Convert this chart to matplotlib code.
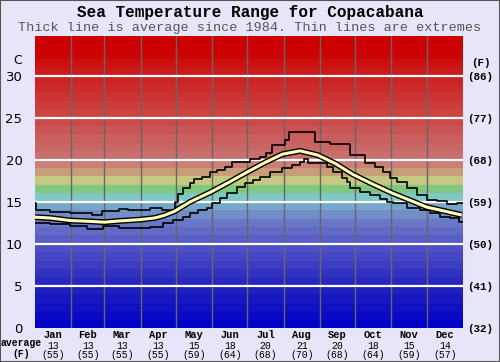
import matplotlib
matplotlib.use("Agg")
import matplotlib.pyplot as plt
import numpy as np
from matplotlib.colors import LinearSegmentedColormap
from matplotlib.patches import Rectangle

# ---- data ----
months = ["Jan", "Feb", "Mar", "Apr", "May", "Jun",
          "Jul", "Aug", "Sep", "Oct", "Nov", "Dec"]
month_avg_c = [13, 13, 13, 13, 15, 18, 20, 21, 20, 18, 15, 14]
month_avg_f = [55, 55, 55, 55, 59, 64, 68, 70, 68, 64, 59, 57]
month_days = [31, 28, 31, 30, 31, 30, 31, 31, 30, 31, 30, 31]

avg_day = [0, 13, 30, 47, 59, 72, 89, 102, 110, 119, 132, 150, 166, 180,
           196, 211, 226, 241, 256, 271, 287, 304, 320, 334, 350, 364]
avg_temp = [13.2, 13.1, 12.8, 12.7, 12.6, 12.75, 12.9, 13.1, 13.4, 13.9, 15.0,
            16.2, 17.4, 18.5, 19.7, 20.7, 21.1, 20.6, 19.6, 18.3, 17.2, 16.1,
            15.2, 14.4, 13.9, 13.45]

max_day = [0, 1, 13, 30, 49, 57, 72, 79, 98, 108, 119, 122, 126, 132, 136,
           142, 149, 155, 162, 168, 183, 192, 197, 202, 213, 217, 239, 252,
           269, 281, 290, 297, 303, 309, 317, 326, 334, 343, 351, 360, 365]
max_temp = [14.9, 14.0, 13.8, 13.7, 13.5, 13.9, 14.2, 14.0, 14.3, 14.1, 15.0,
            16.0, 16.7, 17.3, 17.7, 18.0, 18.6, 18.8, 19.2, 19.8, 20.1, 20.4,
            20.8, 21.8, 22.4, 23.4, 22.1, 21.9, 20.6, 19.6, 19.2, 18.6, 17.9,
            17.4, 16.7, 15.8, 15.3, 15.1, 14.8, 14.9, 14.9]

min_day = [0, 13, 30, 44, 58, 72, 81, 98, 109, 118, 126, 132, 139, 147, 151,
           158, 164, 172, 179, 186, 192, 200, 211, 219, 226, 229, 233, 240,
           249, 254, 262, 266, 269, 277, 286, 294, 300, 305, 317, 328, 337,
           345, 354, 362, 365]
min_temp = [12.5, 12.4, 12.2, 11.8, 12.2, 11.95, 11.9, 12.0, 12.5, 12.9, 13.2,
            13.7, 14.0, 14.3, 14.9, 15.5, 16.1, 16.8, 17.3, 17.6, 18.0, 18.6,
            19.0, 19.4, 19.8, 20.1, 19.7, 19.6, 19.2, 18.6, 17.9, 17.4, 16.7,
            16.2, 15.8, 15.4, 15.0, 14.9, 14.3, 14.05, 13.7, 13.2, 13.1, 12.6,
            12.6]

c_ticks = [0, 5, 10, 15, 20, 25, 30]
f_ticks = ["(32)", "(41)", "(50)", "(59)", "(68)", "(77)", "(86)"]

# ---- figure ----
bg = "#e6e6f8"
fig = plt.figure(figsize=(5.0, 3.62), dpi=100)
fig.patch.set_facecolor(bg)
ax = fig.add_axes([0.07, 0.094, 0.856, 0.807])

TOP = 34.8
YEAR = 365

# temperature-coloured background, one band per degree
cmap = LinearSegmentedColormap.from_list("sea", [
    (0 / TOP, "#0000c8"), (5 / TOP, "#2424c0"), (10 / TOP, "#5656c6"),
    (13 / TOP, "#7080c8"), (14.5 / TOP, "#78a8c8"), (15.5 / TOP, "#80c8c8"),
    (16.5 / TOP, "#80c880"), (17.5 / TOP, "#c8c880"), (18.5 / TOP, "#c8a078"),
    (19.5 / TOP, "#cc8078"), (20.5 / TOP, "#c87070"), (25 / TOP, "#cc4848"),
    (30 / TOP, "#cc2020"), (33 / TOP, "#cc0000"), (1.0, "#cc0000")])
bands = (np.arange(35) + 0.5)[::-1].reshape(-1, 1) / TOP
ax.imshow(bands, cmap=cmap, vmin=0, vmax=1, aspect="auto",
          extent=[0, YEAR, 0, 35], interpolation="nearest", zorder=0)

# month separators and white grid
edges = np.cumsum([0] + month_days)
for e in edges[1:-1]:
    ax.axvline(e, color="#666666", lw=1, zorder=1)
for t in c_ticks[1:]:
    ax.axhline(t, color="white", lw=1.6, zorder=1)

# extremes and average
ax.plot(max_day, max_temp, drawstyle="steps-post", color="black", lw=1.2, zorder=3)
ax.plot(min_day, min_temp, drawstyle="steps-post", color="black", lw=1.2, zorder=3)
ax.plot(avg_day, avg_temp, color="black", lw=4.2, zorder=4, solid_capstyle="butt")
ax.plot(avg_day, avg_temp, color="#ffffb8", lw=2.2, zorder=5, solid_capstyle="butt")

ax.set_xlim(0, YEAR)
ax.set_ylim(0, TOP)
for s in ax.spines.values():
    s.set_visible(False)

ax.set_xticks([])
ax.set_yticks(c_ticks)
ax.set_yticklabels([str(t) for t in c_ticks], fontsize=9.5, family="DejaVu Sans")
ax.tick_params(axis="y", length=0, pad=9)

sec = ax.secondary_yaxis("right")
sec.set_yticks(c_ticks)
sec.set_yticklabels(f_ticks, fontsize=7.8, family="Liberation Mono", weight="bold")
sec.tick_params(length=0, pad=3)
sec.spines["right"].set_visible(False)

# month labels with averages underneath
mids = edges[:-1] + np.array(month_days) / 2
for m, c, f, x in zip(months, month_avg_c, month_avg_f, mids):
    ax.text(x, -0.025, m, transform=ax.get_xaxis_transform(), ha="center", va="center",
            family="Liberation Mono", weight="bold", fontsize=7.5)
    ax.text(x, -0.060, str(c), transform=ax.get_xaxis_transform(), ha="center",
            va="center", family="Liberation Mono", fontsize=7)
    ax.text(x, -0.094, f"({f})", transform=ax.get_xaxis_transform(), ha="center",
            va="center", family="Liberation Mono", fontsize=7)

fig.text(21 / 500, 1 - 343 / 362, "average", ha="center", va="center",
         family="Liberation Mono", weight="bold", fontsize=7)
fig.text(21 / 500, 1 - 354 / 362, "(F)", ha="center", va="center",
         family="Liberation Mono", weight="bold", fontsize=7)
fig.text(18 / 500, 1 - 61 / 362, "C", ha="center", va="center",
         family="DejaVu Sans", fontsize=9)
fig.text(481 / 500, 1 - 63 / 362, "(F)", ha="center", va="center",
         family="Liberation Mono", weight="bold", fontsize=7.8)

fig.text(0.5, 1 - 13 / 362, "Sea Temperature Range for Copacabana", ha="center",
         va="center", family="Liberation Mono", weight="bold", fontsize=11.5)
fig.text(0.5, 1 - 28 / 362, "Thick line is average since 1984. Thin lines are extremes",
         ha="center", va="center", family="Liberation Mono", fontsize=9.7,
         color="#555555")

fig.patches.append(Rectangle((0, 0), 1, 1, transform=fig.transFigure, fill=False,
                             edgecolor="#555555", lw=1.5, zorder=10))

fig.savefig("out.png", dpi=100, facecolor=bg)
